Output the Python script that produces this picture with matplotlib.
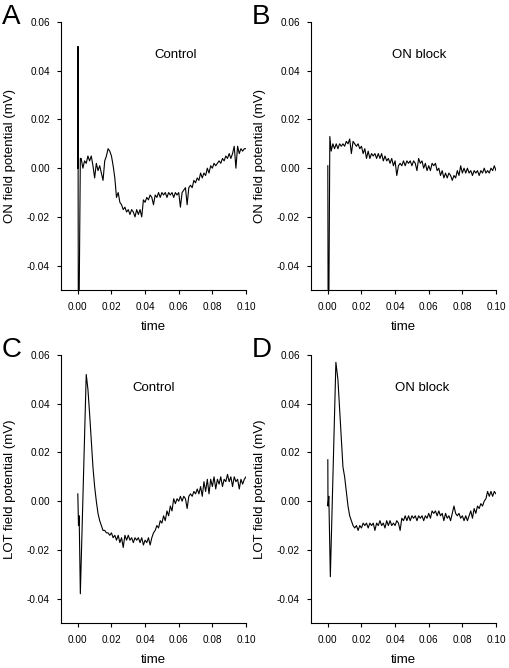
import numpy as np
import matplotlib
matplotlib.use('Agg')
import matplotlib.pyplot as plt

plt.rcParams['font.family'] = ['Liberation Sans', 'DejaVu Sans']

# ---- data (mV vs time in s) ----
# regular samples start at 0.002 (ON traces) or 0.006 (LOT traces), 1 ms step
on_ctrl_t0 = [0.0, 0.0001, 0.0003, 0.0006, 0.0015]
on_ctrl_v0 = [0.0, 0.050, -0.07, -0.07, 0.004]
on_ctrl_v = [0.004, 0.000, 0.003, 0.002, 0.005, 0.003, 0.005, 0.001, -0.004, 0.002,
             -0.001, 0.001, -0.002, -0.005, 0.003, 0.005, 0.008, 0.007, 0.005, 0.001,
             -0.004, -0.012, -0.010, -0.014, -0.015, -0.017, -0.016, -0.018, -0.017, -0.019,
             -0.017, -0.018, -0.020, -0.017, -0.019, -0.017, -0.020, -0.013, -0.014, -0.012,
             -0.013, -0.011, -0.012, -0.015, -0.011, -0.012, -0.010, -0.012, -0.010, -0.011,
             -0.010, -0.012, -0.010, -0.011, -0.010, -0.012, -0.010, -0.011, -0.010, -0.016,
             -0.010, -0.009, -0.008, -0.015, -0.008, -0.007, -0.008, -0.005, -0.006, -0.004,
             -0.005, -0.002, -0.004, -0.002, -0.003, 0.000, -0.002, 0.001, 0.000, 0.002,
             0.001, 0.002, 0.003, 0.002, 0.004, 0.003, 0.005, 0.004, 0.006, 0.004,
             0.006, 0.009, 0.000, 0.009, 0.006, 0.008, 0.007, 0.008, 0.008]

on_block_t0 = [0.0, 0.0002, 0.0005, 0.0012]
on_block_v0 = [0.001, -0.07, -0.07, 0.013]
on_block_v = [0.007, 0.010, 0.008, 0.010, 0.008, 0.010, 0.009, 0.010, 0.009, 0.011,
              0.010, 0.012, 0.006, 0.011, 0.010, 0.009, 0.010, 0.008, 0.009, 0.006,
              0.008, 0.004, 0.007, 0.004, 0.006, 0.005, 0.006, 0.004, 0.006, 0.004,
              0.006, 0.003, 0.005, 0.003, 0.004, 0.002, 0.004, 0.001, 0.003, -0.003,
              0.001, 0.002, 0.001, 0.003, 0.001, 0.003, 0.002, 0.003, 0.001, 0.003,
              0.002, -0.001, 0.004, 0.002, 0.003, 0.000, 0.002, -0.001, 0.001, -0.001,
              0.002, 0.001, 0.002, -0.001, 0.000, -0.003, -0.001, -0.004, -0.002, -0.004,
              -0.002, -0.003, -0.005, -0.003, -0.004, -0.001, -0.003, 0.001, -0.002, 0.000,
              -0.002, 0.000, -0.002, -0.001, -0.003, -0.001, -0.002, -0.001, -0.003, -0.001,
              -0.002, 0.000, -0.002, -0.001, -0.002, 0.000, -0.001, 0.001, -0.001]

lot_ctrl_t0 = [0.0, 0.0004, 0.0008, 0.0015, 0.005]
lot_ctrl_v0 = [0.003, -0.010, -0.006, -0.038, 0.052]
lot_ctrl_v = [0.046, 0.036, 0.025, 0.014, 0.006, 0.000, -0.005, -0.008, -0.010, -0.012,
              -0.012, -0.013, -0.013, -0.014, -0.013, -0.015, -0.014, -0.016, -0.014, -0.017,
              -0.015, -0.019, -0.014, -0.016, -0.014, -0.016, -0.015, -0.017, -0.015, -0.016,
              -0.015, -0.017, -0.015, -0.018, -0.016, -0.017, -0.015, -0.018, -0.015, -0.013,
              -0.012, -0.010, -0.011, -0.008, -0.009, -0.006, -0.008, -0.004, -0.006, -0.002,
              -0.004, 0.001, -0.001, 0.001, 0.000, 0.002, 0.000, 0.002, 0.001, -0.003,
              0.002, 0.003, 0.002, 0.004, 0.003, 0.005, 0.003, 0.006, 0.002, 0.008,
              0.004, 0.009, 0.003, 0.009, 0.006, 0.010, 0.005, 0.009, 0.007, 0.010,
              0.006, 0.009, 0.008, 0.011, 0.008, 0.010, 0.006, 0.010, 0.008, 0.009,
              0.005, 0.009, 0.007, 0.009, 0.010]

lot_block_t0 = [0.0, 0.0001, 0.0006, 0.0015, 0.0048]
lot_block_v0 = [0.017, -0.002, 0.002, -0.031, 0.057]
lot_block_v = [0.050, 0.038, 0.026, 0.014, 0.010, 0.004, -0.002, -0.006, -0.008, -0.010,
               -0.011, -0.010, -0.012, -0.010, -0.011, -0.009, -0.010, -0.009, -0.011, -0.009,
               -0.010, -0.009, -0.012, -0.009, -0.010, -0.008, -0.010, -0.009, -0.011, -0.008,
               -0.010, -0.008, -0.010, -0.009, -0.010, -0.008, -0.009, -0.012, -0.007, -0.008,
               -0.006, -0.008, -0.006, -0.008, -0.006, -0.007, -0.006, -0.008, -0.006, -0.007,
               -0.006, -0.008, -0.006, -0.007, -0.005, -0.007, -0.004, -0.005, -0.004, -0.006,
               -0.004, -0.006, -0.005, -0.008, -0.005, -0.007, -0.006, -0.008, -0.005, -0.002,
               -0.005, -0.006, -0.005, -0.007, -0.006, -0.008, -0.006, -0.008, -0.006, -0.004,
               -0.007, -0.003, -0.005, -0.002, -0.003, -0.001, -0.002, 0.000, 0.001, 0.004,
               0.002, 0.004, 0.002, 0.004, 0.003]

panels = [
    ('A', 'ON field potential (mV)', 'Control', on_ctrl_t0, on_ctrl_v0, 0.002, on_ctrl_v, 0.058),
    ('B', 'ON field potential (mV)', 'ON block', on_block_t0, on_block_v0, 0.002, on_block_v, 0.054),
    ('C', 'LOT field potential (mV)', 'Control', lot_ctrl_t0, lot_ctrl_v0, 0.006, lot_ctrl_v, 0.045),
    ('D', 'LOT field potential (mV)', 'ON block', lot_block_t0, lot_block_v0, 0.006, lot_block_v, 0.056),
]

W, H = 510, 668
fig = plt.figure(figsize=(W / 100, H / 100), dpi=100)

boxes = [(61, 22), (311, 22), (61, 355), (311, 355)]
aw, ah = 185, 268

xt = np.arange(0, 0.101, 0.02)
yt = np.arange(-0.04, 0.061, 0.02)

for (letter, ylab, note, t0, v0, tstart, v, nx), (px, py) in zip(panels, boxes):
    ax = fig.add_axes([px / W, 1 - (py + ah) / H, aw / W, ah / H])
    t = np.concatenate([t0, tstart + 0.001 * np.arange(len(v))])
    y = np.concatenate([v0, v])
    ax.plot(t, y, color='black', lw=0.8)
    ax.set_xlim(-0.01, 0.10)
    ax.set_ylim(-0.05, 0.06)
    ax.set_xticks(xt)
    ax.set_yticks(yt)
    ax.set_xticklabels(['%.2f' % x for x in xt])
    ax.set_yticklabels(['%.2f' % x if abs(x) > 1e-9 else '0.00' for x in yt])
    ax.spines['top'].set_visible(False)
    ax.spines['right'].set_visible(False)
    ax.spines['left'].set_linewidth(0.8)
    ax.spines['bottom'].set_linewidth(0.8)
    ax.tick_params(direction='out', length=2.9, width=0.8, labelsize=7.2)
    ax.tick_params(axis='x', pad=5.5)
    ax.tick_params(axis='y', pad=5)
    ax.set_xlabel('time', fontsize=9.5, labelpad=6.5)
    ax.set_ylabel(ylab, fontsize=9.5, labelpad=8)
    ax.text(nx, 0.0465, note, fontsize=9.5, ha='center', va='center')
    fig.text((px - 59) / W, 1 - (py - 18) / H, letter, fontsize=20, va='top', ha='left')

fig.savefig('out.png', dpi=100)
